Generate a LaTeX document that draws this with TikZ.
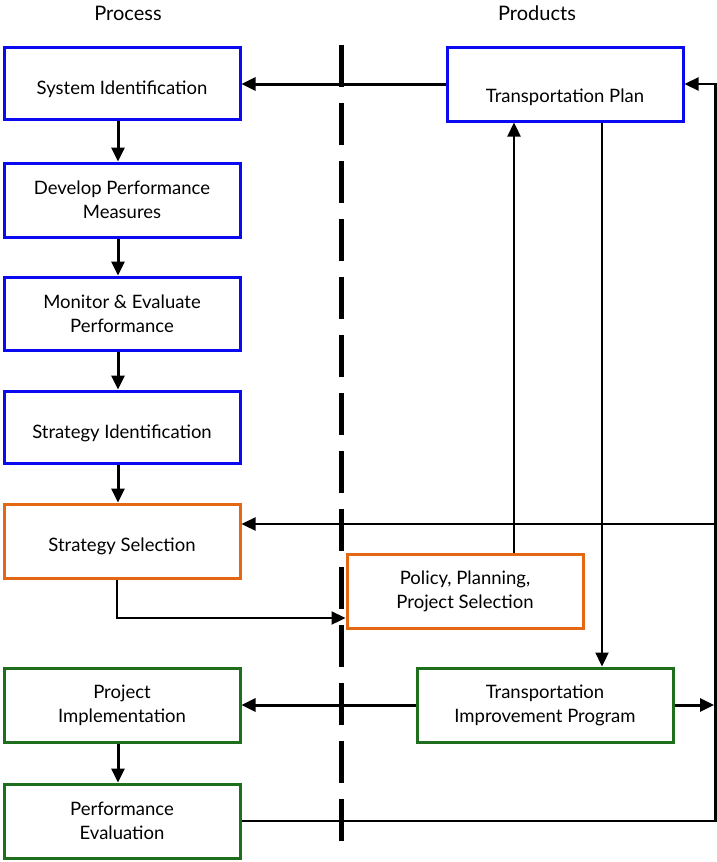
\documentclass[tikz,border=0pt]{standalone}
\usepackage{fontspec}
\setmainfont{Lato}
\usetikzlibrary{arrows.meta}
\definecolor{orng}{RGB}{228,104,20}
\definecolor{grn}{RGB}{30,110,30}
\definecolor{blu}{RGB}{10,10,240}
\newcommand{\lowertext}[2]{\raisebox{-#1}[\height][\depth]{#2}}
\begin{document}
\begin{tikzpicture}[x=1pt,y=-1pt,
  box/.style={draw, line width=3pt, minimum width=236pt, minimum height=72pt, align=center,
    font=\fontsize{18.5}{24}\selectfont, inner sep=0pt, fill=white},
  bluebox/.style={box, draw=blu},
  orbox/.style={box, draw=orng},
  grbox/.style={box, draw=grn},
  conn/.style={line width=3pt, -{Triangle[length=14pt,width=13pt]}},
  thinconn/.style={line width=2.3pt, -{Triangle[length=14pt,width=13pt]}},
  head/.style={font=\fontsize{20}{24}\selectfont}
]
\useasboundingbox (0,0) rectangle (716,862);
\fill[white] (0,0) rectangle (716,862);

\draw[line width=5pt, dash pattern=on 42pt off 16pt] (341,45) -- (341,852);

\node[head] (hp) at (128,13) {Process};
\node[head] (hpr) at (537,13) {Products};

\node[bluebox] (si) at (122,83) {\lowertext{6pt}{System Identification}};
\node[bluebox, minimum height=74pt] (dpm) at (122,200) {Develop Performance\\Measures};
\node[bluebox, minimum height=73pt] (mep) at (122,313.5) {Monitor \& Evaluate\\Performance};
\node[bluebox] (sid) at (122,427) {\lowertext{6pt}{Strategy Identification}};
\node[orbox, minimum height=74pt] (ss) at (122,541) {\lowertext{5pt}{Strategy Selection}};
\node[orbox, minimum height=74pt] (pps) at (465,591) {Policy, Planning,\\Project Selection};
\node[bluebox, minimum height=74pt] (tp) at (565,84) {\lowertext{13pt}{Transportation Plan}};
\node[grbox, minimum width=256pt, minimum height=74pt] (tip) at (545,705) {Transportation\\Improvement Program};
\node[grbox, minimum height=74pt] (pi) at (122,705) {Project\\Implementation};
\node[grbox, minimum height=74pt] (pe) at (122,821) {Performance\\Evaluation};

\coordinate (rx) at (714,0);

\draw[conn] (tp.west) -- (tp.west -| si.east);
\draw[conn] ([xshift=-4pt]si.south) -- ([xshift=-4pt]dpm.north);
\draw[conn] ([xshift=-4pt]dpm.south) -- ([xshift=-4pt]mep.north);
\draw[conn] ([xshift=-4pt]mep.south) -- ([xshift=-4pt]sid.north);
\draw[conn] ([xshift=-4pt]sid.south) -- ([xshift=-4pt]ss.north);
\draw[conn] ([xshift=-4pt]pi.south) -- ([xshift=-4pt]pe.north);
\draw[thinconn] ([xshift=-5pt]ss.south) |- ([yshift=-27pt]pps.west);
\draw[thinconn] ([xshift=49pt]pps.north) -- ([xshift=49pt]pps.north |- tp.south);
\draw[thinconn] ([xshift=37pt]tp.south) -- ([xshift=37pt]tp.south |- tip.north);
\draw[conn] (tip.west) -- (tip.west -| pi.east);
\draw[thinconn] (pe.east) -| ([xshift=31pt]tp.east) -- (tp.east);
\draw[conn] (tip.east) -- (tip.east -| rx);
\draw[thinconn] ([yshift=17pt]ss.east -| rx) -- ([yshift=17pt]ss.east);
\end{tikzpicture}
\end{document}
